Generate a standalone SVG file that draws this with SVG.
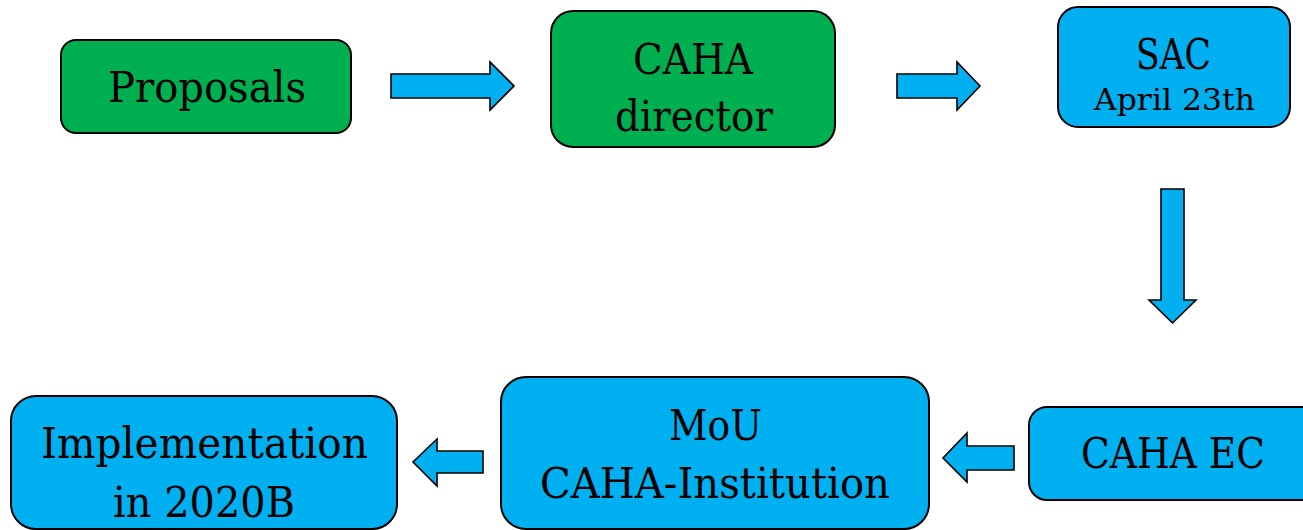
<svg xmlns="http://www.w3.org/2000/svg" width="1303" height="530" viewBox="0 0 1303 530">
<style>
.g{fill:#00B050;stroke:#000;stroke-width:2}
.b{fill:#00B0F0;stroke:#000;stroke-width:2}
.a{fill:#00B0F0;stroke:#000;stroke-width:1.6;stroke-linejoin:miter}
text{font-family:"DejaVu Serif","Liberation Serif",serif;font-size:43px;fill:#000;text-anchor:middle}
.s{font-size:30px}
</style>
<rect width="1303" height="530" fill="#fff"/>
<g id="connectors">
<polygon class="a" points="391,74 490,74 490,62 514,86 490,110 490,98 391,98"/>
<polygon class="a" points="897,74 957,74 957,62 980,86 957,110 957,98 897,98"/>
<polygon class="a" points="1161,189 1184,189 1184,300 1196,300 1172.5,323 1149,300 1161,300"/>
<polygon class="a" points="1014,446 967,446 967,433 943,458 967,482 967,470 1014,470"/>
<polygon class="a" points="483,451 437,451 437,439 413,462 437,486 437,473 483,473"/>
</g>
<g id="proposals">
<rect class="g" x="61" y="40" width="290" height="93" rx="15"/>
<text x="207" y="102" textLength="198" lengthAdjust="spacingAndGlyphs">Proposals</text>
</g>
<g id="director">
<rect class="g" x="551" y="11" width="284" height="136" rx="22"/>
<text x="693" y="74" textLength="120" lengthAdjust="spacingAndGlyphs">CAHA</text>
<text x="694" y="131" textLength="158" lengthAdjust="spacingAndGlyphs">director</text>
</g>
<g id="sac">
<rect class="b" x="1058" y="7" width="232" height="120" rx="20"/>
<text x="1173.5" y="69" textLength="75" lengthAdjust="spacingAndGlyphs">SAC</text>
<text class="s" x="1174.5" y="110" textLength="161" lengthAdjust="spacingAndGlyphs">April 23th</text>
</g>
<g id="ec">
<rect class="b" x="1029" y="407" width="300" height="93" rx="18"/>
<text x="1173" y="468" textLength="184" lengthAdjust="spacingAndGlyphs">CAHA EC</text>
</g>
<g id="mou">
<rect class="b" x="501" y="377" width="428" height="152" rx="25"/>
<text x="715.5" y="440" textLength="93" lengthAdjust="spacingAndGlyphs">MoU</text>
<text x="715" y="498" textLength="350" lengthAdjust="spacingAndGlyphs">CAHA-Institution</text>
</g>
<g id="implementation">
<rect class="b" x="11" y="396" width="386" height="133" rx="25"/>
<text x="204.5" y="458" textLength="327" lengthAdjust="spacingAndGlyphs">Implementation</text>
<text x="204" y="517" textLength="182" lengthAdjust="spacingAndGlyphs">in 2020B</text>
</g>
</svg>
